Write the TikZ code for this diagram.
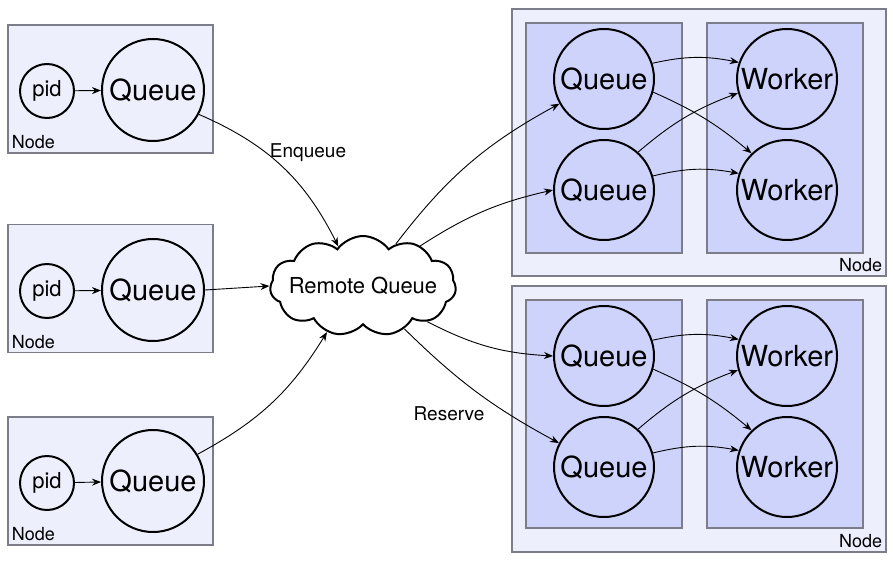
\documentclass[tikz,border=0pt]{standalone}
\usepackage{fontspec}
\setmainfont{TeX Gyre Heros}
\usetikzlibrary{shapes.symbols,arrows.meta}
\definecolor{nodebg}{RGB}{237,239,253}
\definecolor{groupbg}{RGB}{206,211,251}
\definecolor{boxline}{RGB}{125,125,138}
\begin{document}
\begin{tikzpicture}[x=0.5pt,y=-0.5pt,
	outerbox/.style={draw=boxline, fill=nodebg, line width=0.6pt, inner sep=0pt},
	innerbox/.style={draw=boxline, fill=groupbg, line width=0.6pt, inner sep=0pt},
	bigcirc/.style={circle, draw, line width=1pt, minimum size=50pt, inner sep=0pt, font=\fontsize{14.5}{16}\selectfont},
	smallcirc/.style={circle, draw, line width=1pt, minimum size=27pt, inner sep=0pt, font=\fontsize{11}{13}\selectfont},
	lbl/.style={font=\fontsize{9}{11}\selectfont, inner sep=2pt},
	flow/.style={-{Stealth[length=4.5pt,width=3.5pt]}, line width=0.45pt}]
		\useasboundingbox (0,0) rectangle (893,562);
		% left side: three machines
		\node [outerbox, minimum width=102.5pt, minimum height=64pt](box_l1) at (110.5,89) {};
		\node [outerbox, minimum width=102.5pt, minimum height=64pt](box_l2) at (110.5,288.5) {};
		\node [outerbox, minimum width=102.5pt, minimum height=64pt](box_l3) at (110.5,481) {};
		\node [lbl, anchor=south west](lbl_l1) at (box_l1.south west) {Node};
		\node [lbl, anchor=south west](lbl_l2) at (box_l2.south west) {Node};
		\node [lbl, anchor=south west](lbl_l3) at (box_l3.south west) {Node};
		\node [smallcirc](pid_1) at (47,91) {pid};
		\node [smallcirc](pid_2) at (47,291) {pid};
		\node [smallcirc](pid_3) at (47,483) {pid};
		\node [bigcirc, minimum size=51pt](queue_l1) at (153,90) {Queue};
		\node [bigcirc, minimum size=51pt](queue_l2) at (153,290) {Queue};
		\node [bigcirc, minimum size=51pt](queue_l3) at (153,481) {Queue};
		\draw [flow] (pid_1) -- (queue_l1);
		\draw [flow] (pid_2) -- (queue_l2);
		\draw [flow] (pid_3) -- (queue_l3);
		% right side: two worker machines
		\node [outerbox, minimum width=187pt, minimum height=133.5pt](box_r1) at (699,142.5) {};
		\node [outerbox, minimum width=187pt, minimum height=133pt](box_r2) at (699,419) {};
		\node [lbl, anchor=south east](lbl_r1) at (box_r1.south east) {Node};
		\node [lbl, anchor=south east](lbl_r2) at (box_r2.south east) {Node};
		\node [innerbox, minimum width=78pt, minimum height=115pt](grp_q1) at (604,138) {};
		\node [innerbox, minimum width=78pt, minimum height=115pt](grp_w1) at (785,138) {};
		\node [innerbox, minimum width=78pt, minimum height=114pt](grp_q2) at (604,414) {};
		\node [innerbox, minimum width=78pt, minimum height=114pt](grp_w2) at (785,414) {};
		\node [bigcirc](queue_r1) at (604,79) {Queue};
		\node [bigcirc](queue_r2) at (604,190) {Queue};
		\node [bigcirc](worker_1) at (787,79) {Worker};
		\node [bigcirc](worker_2) at (787,190) {Worker};
		\node [bigcirc](queue_r3) at (604,356) {Queue};
		\node [bigcirc](queue_r4) at (604,467) {Queue};
		\node [bigcirc](worker_3) at (787,356) {Worker};
		\node [bigcirc](worker_4) at (787,467) {Worker};
		% the shared queue
		\node [cloud, draw, fill=white, line width=1pt, cloud puffs=11, cloud puff arc=110, aspect=2,
			minimum width=93pt, minimum height=50pt, inner sep=0pt,
			label={[font=\fontsize{11}{12}\selectfont]center:Remote Queue}](remote) at (363,286) {};
		\draw [flow] (queue_l1.-28) to[bend left=20] (remote.122);
		\draw [flow] (queue_l2.0) -- (remote.180);
		\draw [flow] (queue_l3.31) to[bend right=15] (remote.232);
		\draw [flow] (remote.52) to[bend left=12] (queue_r1.209);
		\draw [flow] (remote.35) to[bend left=10] (queue_r2.180);
		\draw [flow] (remote.-29) to[bend right=12] (queue_r3.180);
		\draw [flow] (remote.-46) to[bend right=8] (queue_r4.152);
		\node [lbl, font=\fontsize{9.5}{11}\selectfont](enqueue) at (308,153) {Enqueue};
		\node [lbl, font=\fontsize{9.5}{11}\selectfont](reserve) at (449,414) {Reserve};
		% queues feed workers
		\draw [flow] (queue_r1.18) to[bend left=12] (worker_1.161);
		\draw [flow] (queue_r1.-15) to[bend left=8] (worker_2.134);
		\draw [flow] (queue_r2.48) to[bend left=10] (worker_1.196);
		\draw [flow] (queue_r2.16) to[bend left=12] (worker_2.161);
		\draw [flow] (queue_r3.18) to[bend left=12] (worker_3.161);
		\draw [flow] (queue_r3.-15) to[bend left=8] (worker_4.134);
		\draw [flow] (queue_r4.48) to[bend left=10] (worker_3.196);
		\draw [flow] (queue_r4.16) to[bend left=12] (worker_4.161);
		\end{tikzpicture}
\end{document}
